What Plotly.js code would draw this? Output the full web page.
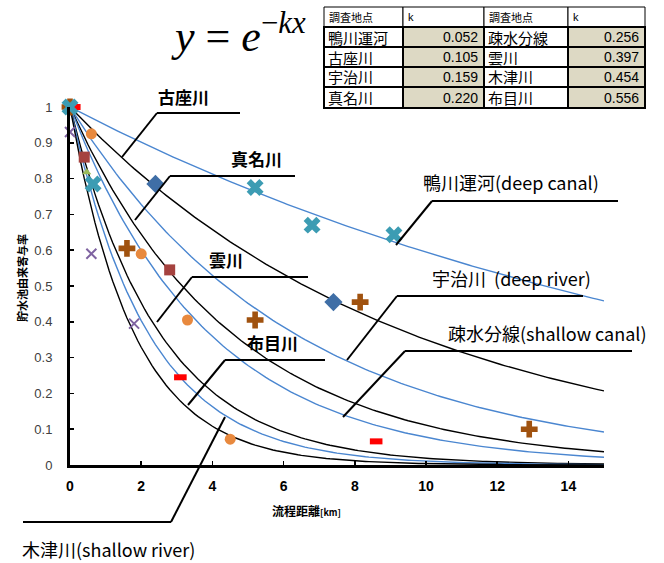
<!DOCTYPE html>
<html><head><meta charset="utf-8">
<script src="https://cdn.plot.ly/plotly-3.0.1.min.js"></script>
<style>body{margin:0;background:#fff}#chart{width:664px;height:563px}</style>
</head><body><div id="chart"></div><script>
// ---- data ----
const siteNames = ['鴨川運河','古座川','宇治川','真名川','疎水分線','雲川','木津川','布目川'];
const kValues = [0.052, 0.105, 0.159, 0.220, 0.256, 0.397, 0.454, 0.556];
const tableHeader = ['調査地点', 'k', '調査地点', 'k'];
const xTicks = [0, 2, 4, 6, 8, 10, 12, 14];
const yTicks = [0, 0.1, 0.2, 0.3, 0.4, 0.5, 0.6, 0.7, 0.8, 0.9, 1];
const yTickText = ['0','0.1','0.2','0.3','0.4','0.5','0.6','0.7','0.8','0.9','1'];

const starX = [0, 0.65, 5.2, 6.8, 9.1];        const starY = [1, 0.785, 0.775, 0.67, 0.643];
const diamondX = [2.4, 7.4];                   const diamondY = [0.785, 0.455];
const plusX = [0, 1.6, 5.2, 8.15, 12.9];       const plusY = [1, 0.605, 0.405, 0.455, 0.10];
const circleX = [0.6, 2.0, 3.3, 4.5];          const circleY = [0.925, 0.59, 0.405, 0.072];
const squareX = [0.4, 2.8];                    const squareY = [0.86, 0.545];
const crossX = [0, 0.6, 1.8];                  const crossY = [0.93, 0.59, 0.395];
const dashX = [0.12, 3.1, 8.6];                const dashY = [1, 0.245, 0.066];
const triX = [0.47];                           const triY = [0.818];

// callout labels
const calloutLabels = ['古座川','真名川','雲川','布目川','鴨川運河(deep canal)','宇治川  (deep river)','疎水分線(shallow canal)','木津川(shallow river)'];

// ---- geometry helpers (pixel -> paper) ----
const L = 70, R = 604, T = 107, B = 465;
const px = x => (x - L) / (R - L);
const py = y => (B - y) / (B - T);

// ---- model curves y = exp(-k x) from table k ----
const xs = [];
for (let i = 0; i <= 150; i++) xs.push(i / 10);
const traces = [];
kValues.forEach((k, i) => {
  traces.push({
    x: xs, y: xs.map(x => Math.exp(-k * x)), mode: 'lines', type: 'scatter',
    line: {color: i % 2 === 0 ? '#4A86D0' : '#000000', width: 1.4},
    hoverinfo: 'skip', showlegend: false
  });
});
function pts(x, y, marker) {
  return {x, y, mode: 'markers', type: 'scatter', marker, showlegend: false, hoverinfo: 'skip', cliponaxis: false};
}
traces.push(pts(triX, triY, {symbol: 'triangle-up', size: 8, color: '#9BBB59'}));
traces.push(pts(squareX, squareY, {symbol: 'square', size: 11, color: '#A5423F'}));
traces.push(pts(circleX, circleY, {symbol: 'circle', size: 11, color: '#E8893E'}));
traces.push(pts(crossX, crossY, {symbol: 'x-thin-open', size: 10, color: '#7F63A1', line: {width: 2, color: '#7F63A1'}}));
traces.push(pts(diamondX, diamondY, {symbol: 'diamond', size: 14, color: '#3F6EA6'}));
traces.push(pts(plusX, plusY, {symbol: 'cross', size: 14, color: '#A0520F'}));
traces.push(pts(dashX, dashY, {symbol: 'line-ew-open', size: 9, color: '#FF0000', line: {width: 6, color: '#FF0000'}}));
traces.push(pts(starX, starY, {symbol: 'x', size: 15, color: '#3C9CB3'}));

// ---- shapes ----
const shapes = [];
function poly(pointsPx, w) {
  for (let i = 0; i < pointsPx.length - 1; i++) {
    shapes.push({type: 'line', xref: 'paper', yref: 'paper',
      x0: px(pointsPx[i][0]), y0: py(pointsPx[i][1]), x1: px(pointsPx[i+1][0]), y1: py(pointsPx[i+1][1]),
      line: {color: '#000', width: w || 2}});
  }
}
const calloutLines = [
  [[122,157],[157,113],[240,113]],
  [[135,220],[170,176],[295,176]],
  [[157,322],[192,277],[308,277]],
  [[188,405],[225,360],[325,360]],
  [[396,245],[432,201],[618,201]],
  [[347,360],[397,296],[583,296]],
  [[343,417],[405,351],[632,351]],
  [[225,417],[171,522],[23,522]]
];
calloutLines.forEach(p => poly(p, 2));

// table
const colX = [324, 403, 484, 568, 645];
const rowY = [7, 27, 47, 67, 87, 108];
for (let r = 0; r < 5; r++) {
  for (let c = 0; c < 4; c++) {
    shapes.push({type: 'rect', xref: 'paper', yref: 'paper',
      x0: px(colX[c]), x1: px(colX[c+1]), y0: py(rowY[r+1]), y1: py(rowY[r]),
      fillcolor: (r > 0 && c % 2 === 1) ? '#DDD9C4' : '#FFFFFF',
      line: {color: '#000', width: r === 0 ? 1 : 2}, layer: 'above'});
  }
}

// ---- annotations ----
const ann = [];
function txt(text, x, y, opts) {
  ann.push(Object.assign({text, xref: 'paper', yref: 'paper', x: px(x), y: py(y), showarrow: false,
    xanchor: 'center', yanchor: 'middle'}, opts || {}));
}
const boldFont = {family: 'Noto Sans CJK JP', size: 17, color: '#000'};
const regFont = {family: 'Noto Sans CJK JP, Open Sans', size: 18, color: '#000'};
txt('<b>' + calloutLabels[0] + '</b>', 183, 97, {font: boldFont});
txt('<b>' + calloutLabels[1] + '</b>', 256, 158, {font: boldFont});
txt('<b>' + calloutLabels[2] + '</b>', 226, 259, {font: boldFont});
txt('<b>' + calloutLabels[3] + '</b>', 272, 342, {font: boldFont});
txt(calloutLabels[4], 511, 182, {font: regFont});
txt(calloutLabels[5], 511, 278, {font: regFont});
txt(calloutLabels[6], 547, 333, {font: regFont});
txt(calloutLabels[7], 108, 549, {font: regFont});

// formula
txt('<i>y</i> = <i>e</i><sup>−<i>kx</i></sup>', 238, 34, {font: {family: 'Liberation Serif', size: 44, color: '#000'}});

// axis titles
txt('<b>貯水池由来寄与率</b>', 22, 278, {textangle: -90, font: {family: 'Noto Sans CJK JP', size: 11, color: '#000'}});
txt('<b>流程距離<span style="font-size:9px">[km]</span></b>', 306, 510, {font: {family: 'Noto Sans CJK JP', size: 12, color: '#000'}});

// table text
for (let c = 0; c < 4; c++) {
  const fam = c % 2 === 0 ? 'Noto Sans CJK JP' : 'Liberation Sans';
  txt(tableHeader[c], colX[c] + 3, (rowY[0] + rowY[1]) / 2, {xanchor: 'left', font: {family: fam, size: 11, color: '#000'}});
}
for (let i = 0; i < siteNames.length; i++) {
  const col = i < 4 ? 0 : 2;
  const row = (i % 4) + 1;
  const ym = (rowY[row] + rowY[row + 1]) / 2;
  txt(siteNames[i], colX[col] + 2, ym, {xanchor: 'left', font: {family: 'Noto Sans CJK JP', size: 15, color: '#000'}});
  txt(kValues[i].toFixed(3), colX[col + 2] - 4, ym, {xanchor: 'right', font: {family: 'Liberation Sans', size: 14, color: '#000'}});
}

const layout = {
  width: 664, height: 563,
  margin: {l: L, r: 664 - R, t: T, b: 563 - B, pad: 0},
  paper_bgcolor: '#fff', plot_bgcolor: '#fff',
  showlegend: false, hovermode: false,
  xaxis: {range: [0, 15], tickvals: xTicks, ticktext: xTicks.map(String), showgrid: false, zeroline: false,
    showline: true, linecolor: '#000', linewidth: 3, ticks: 'inside', ticklen: 4, tickwidth: 1.5, tickcolor: '#000',
    ticklabelstandoff: 6, tickfont: {family: 'Liberation Sans', size: 14, color: '#000', weight: 700}},
  yaxis: {range: [0, 1], tickvals: yTicks, ticktext: yTickText, showgrid: false, zeroline: false,
    showline: true, linecolor: '#000', linewidth: 3, ticks: 'inside', ticklen: 4, tickwidth: 1.5, tickcolor: '#000',
    ticklabelstandoff: 12, tickfont: {family: 'Liberation Sans', size: 13, color: '#404040'}},
  shapes, annotations: ann
};
Plotly.newPlot('chart', traces, layout, {displayModeBar: false, staticPlot: true});
</script></body></html>
